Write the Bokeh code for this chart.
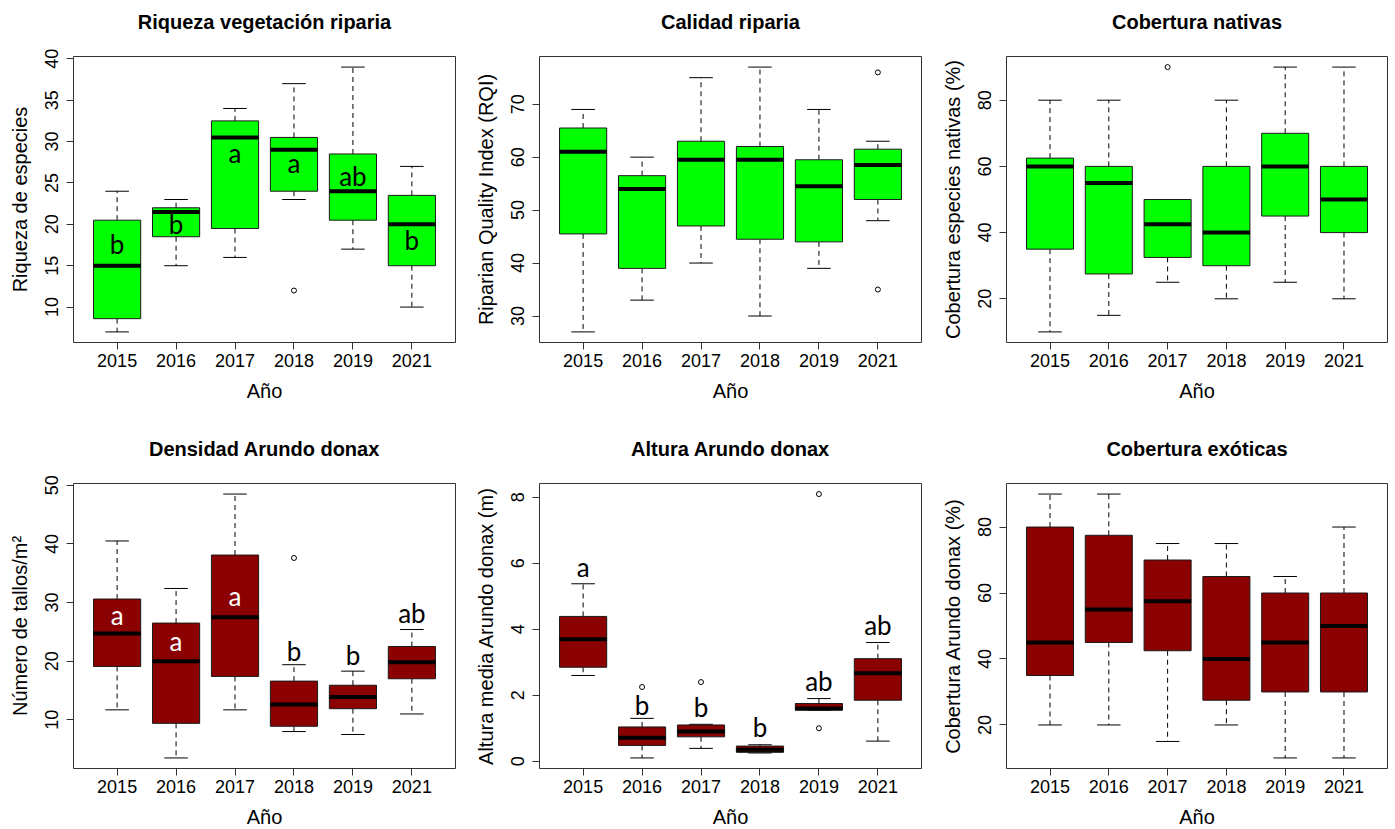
from bokeh.plotting import figure
from bokeh.layouts import row, column
from bokeh.models import FixedTicker, Range1d, ColumnDataSource, LinearAxis
from bokeh.core.properties import value
from bokeh.embed import file_html
from bokeh.resources import INLINE

years = ["2015", "2016", "2017", "2018", "2019", "2021"]

# Riqueza vegetación riparia
riq_low = [7, 15, 16, 23, 17, 10]
riq_q1 = [8.6, 18.5, 19.5, 24, 20.5, 15]
riq_med = [15, 21.5, 30.5, 29, 24, 20]
riq_q3 = [20.5, 22, 32.5, 30.5, 28.5, 23.5]
riq_high = [24, 23, 34, 37, 39, 27]
riq_out_year = ["2018"]
riq_out_val = [12]
riq_letters = ["b", "b", "a", "a", "ab", "b"]
riq_letter_y = [17.65, 20.0, 28.6, 27.4, 25.8, 18.1]

# Calidad riparia (RQI)
rqi_low = [27, 33, 40, 30, 39, 48]
rqi_q1 = [45.5, 39, 47, 44.5, 44, 52]
rqi_med = [61, 54, 59.5, 59.5, 54.5, 58.5]
rqi_q3 = [65.5, 56.5, 63, 62, 59.5, 61.5]
rqi_high = [69, 60, 75, 77, 69, 63]
rqi_out_year = ["2021", "2021"]
rqi_out_val = [76, 35]

# Cobertura nativas
nat_low = [10, 15, 25, 20, 25, 20]
nat_q1 = [35, 27.5, 32.5, 30, 45, 40]
nat_med = [60, 55, 42.5, 40, 60, 50]
nat_q3 = [62.5, 60, 50, 60, 70, 60]
nat_high = [80, 80, 50, 80, 90, 90]
nat_out_year = ["2017"]
nat_out_val = [90]

# Densidad Arundo donax
den_low = [11.7, 3.5, 11.7, 8.0, 7.5, 11.0]
den_q1 = [19.1, 9.4, 17.4, 8.9, 11.9, 17.0]
den_med = [24.7, 20.0, 27.5, 12.6, 13.9, 19.8]
den_q3 = [30.6, 26.5, 38.1, 16.6, 15.9, 22.5]
den_high = [40.5, 32.4, 48.5, 19.4, 18.3, 25.4]
den_out_year = ["2018"]
den_out_val = [37.6]
den_letters = ["a", "a", "a", "b", "b", "ab"]
den_letter_y = [27.95, 23.5, 31.2, 21.8, 21.0, 28.2]
den_letter_color = ["white", "white", "white", "black", "black", "black"]

# Altura Arundo donax
alt_low = [2.6, 0.1, 0.39, 0.25, 1.55, 0.61]
alt_q1 = [2.85, 0.48, 0.74, 0.27, 1.55, 1.85]
alt_med = [3.7, 0.71, 0.9, 0.35, 1.6, 2.67]
alt_q3 = [4.39, 1.04, 1.1, 0.46, 1.75, 3.11]
alt_high = [5.38, 1.3, 1.12, 0.5, 1.9, 3.6]
alt_out_year = ["2016", "2017", "2019", "2019"]
alt_out_val = [2.25, 2.4, 8.1, 1.0]
alt_letters = ["a", "b", "b", "b", "ab", "ab"]
alt_letter_y = [5.89, 1.69, 1.64, 1.04, 2.42, 4.13]

# Cobertura exóticas
exo_low = [20, 20, 15, 20, 10, 10]
exo_q1 = [35, 45, 42.5, 27.5, 30, 30]
exo_med = [45, 55, 57.5, 40, 45, 50]
exo_q3 = [80, 77.5, 70, 65, 60, 60]
exo_high = [90, 90, 75, 75, 65, 80]
exo_out_year = []
exo_out_val = []

GREEN = "#00FF00"
DARKRED = "#8B0000"
AXIS_FONT = "Liberation Sans"


def panel(title, ylabel, low, q1, med, q3, high, out_year, out_val, yticks,
          fill, top_border, bottom_border, left_border, right_border, frame_w,
          frame_h, letters=None, letter_y=None, letter_color=None):
    xs = list(range(1, len(years) + 1))
    pos = {y: i + 1 for i, y in enumerate(years)}

    # y range: data span padded by 4 % on each side
    data_vals = list(low) + list(high) + list(out_val)
    lo, hi = min(data_vals), max(data_vals)
    pad = (hi - lo) * 0.04
    p = figure(title=None, frame_width=frame_w, frame_height=frame_h,
               x_range=Range1d(0.26, 6.74), y_range=Range1d(lo - pad, hi + pad),
               min_border_left=left_border, min_border_right=right_border,
               min_border_top=top_border, min_border_bottom=bottom_border,
               toolbar_location=None, output_backend="svg",
               background_fill_color="white", border_fill_color="white")
    p.grid.visible = False
    p.outline_line_color = "#333333"
    p.outline_line_width = 1

    # bottom x axis
    xa = p.below[0]
    xa.ticker = FixedTicker(ticks=xs)
    xa.major_label_overrides = {i: y for i, y in zip(xs, years)}
    xa.bounds = (1, len(years))
    xa.axis_label = "Año"
    # left y axis
    ya = p.left[0]
    ya.ticker = FixedTicker(ticks=yticks)
    ya.bounds = (yticks[0], yticks[-1])
    ya.axis_label = ylabel
    ya.major_label_orientation = "vertical"
    for ax in (xa, ya):
        ax.axis_line_color = "#333333"
        ax.major_tick_line_color = "#333333"
        ax.major_tick_out = 7
        ax.major_tick_in = 0
        ax.minor_tick_line_color = None
        ax.major_label_text_font = AXIS_FONT
        ax.major_label_text_font_size = "18px"
        ax.major_label_text_color = "black"
        ax.axis_label_text_font = AXIS_FONT
        ax.axis_label_text_font_size = "20px"
        ax.axis_label_text_font_style = "normal"
        ax.axis_label_text_color = "black"
    xa.major_label_standoff = 4
    xa.axis_label_standoff = 10
    ya.major_label_standoff = 8
    ya.axis_label_standoff = 12

    # panel heading: a bare axis above the frame carrying only its label
    head = LinearAxis(ticker=FixedTicker(ticks=[]), axis_label=title,
                      axis_line_color=None, major_tick_line_color=None,
                      minor_tick_line_color=None,
                      major_tick_out=0, major_tick_in=0,
                      major_label_standoff=0,
                      major_label_text_font_size="0px",
                      axis_label_text_font=AXIS_FONT,
                      axis_label_text_font_size="20px",
                      axis_label_text_font_style="bold",
                      axis_label_text_color="black",
                      axis_label_standoff=24)
    p.add_layout(head, "above")

    src = ColumnDataSource(dict(
        x=xs, low=low, q1=q1, med=med, q3=q3, high=high,
        xl=[x - 0.4 for x in xs], xr=[x + 0.4 for x in xs],
        cl=[x - 0.2 for x in xs], cr=[x + 0.2 for x in xs]))

    # dashed whiskers
    p.segment(x0="x", y0="q3", x1="x", y1="high", source=src,
              line_color="black", line_width=1, line_dash="5 4")
    p.segment(x0="x", y0="q1", x1="x", y1="low", source=src,
              line_color="black", line_width=1, line_dash="5 4")
    # whisker caps
    p.segment(x0="cl", y0="high", x1="cr", y1="high", source=src,
              line_color="black", line_width=1)
    p.segment(x0="cl", y0="low", x1="cr", y1="low", source=src,
              line_color="black", line_width=1)
    # boxes
    p.vbar(x="x", top="q3", bottom="q1", width=0.8, source=src,
           fill_color=fill, line_color="#1a1a1a", line_width=1)
    # medians
    p.segment(x0="xl", y0="med", x1="xr", y1="med", source=src,
              line_color="black", line_width=4)
    # outliers
    if out_val:
        p.scatter(x=[pos[y] for y in out_year], y=out_val, marker="circle",
                  size=5, fill_color=None, line_color="black", line_width=1)
    # significance letters, centred on their y value
    if letters:
        cols = letter_color if letter_color else ["black"] * len(letters)
        p.text(x=xs, y=letter_y, text=letters, text_color=cols,
               text_font=value("Lato"), text_font_size="26px",
               text_align="center", text_baseline="middle")
    return p


FW, FH1, FH2 = 382, 286, 285
top_kw = dict(top_border=56, bottom_border=69, frame_h=FH1)
bot_kw = dict(top_border=72, bottom_border=61, frame_h=FH2)
c1 = dict(left_border=73, right_border=11, frame_w=FW)
c2 = dict(left_border=73, right_border=11, frame_w=FW)
c3 = dict(left_border=74, right_border=6, frame_w=381)

p1 = panel("Riqueza vegetación riparia", "Riqueza de especies",
           riq_low, riq_q1, riq_med, riq_q3, riq_high, riq_out_year, riq_out_val,
           [10, 15, 20, 25, 30, 35, 40], GREEN, letters=riq_letters,
           letter_y=riq_letter_y, **top_kw, **c1)
p2 = panel("Calidad riparia", "Riparian Quality Index (RQI)",
           rqi_low, rqi_q1, rqi_med, rqi_q3, rqi_high, rqi_out_year, rqi_out_val,
           [30, 40, 50, 60, 70], GREEN, **top_kw, **c2)
p3 = panel("Cobertura nativas", "Cobertura especies nativas (%)",
           nat_low, nat_q1, nat_med, nat_q3, nat_high, nat_out_year, nat_out_val,
           [20, 40, 60, 80], GREEN, **top_kw, **c3)
p4 = panel("Densidad Arundo donax", "Número de tallos/m²",
           den_low, den_q1, den_med, den_q3, den_high, den_out_year, den_out_val,
           [10, 20, 30, 40, 50], DARKRED, letters=den_letters,
           letter_y=den_letter_y, letter_color=den_letter_color, **bot_kw, **c1)
p5 = panel("Altura Arundo donax", "Altura media Arundo donax (m)",
           alt_low, alt_q1, alt_med, alt_q3, alt_high, alt_out_year, alt_out_val,
           [0, 2, 4, 6, 8], DARKRED, letters=alt_letters,
           letter_y=alt_letter_y, **bot_kw, **c2)
p6 = panel("Cobertura exóticas", "Cobertura Arundo donax (%)",
           exo_low, exo_q1, exo_med, exo_q3, exo_high, exo_out_year, exo_out_val,
           [20, 40, 60, 80], DARKRED, **bot_kw, **c3)

layout = column(row(p1, p2, p3, spacing=0), row(p4, p5, p6, spacing=0), spacing=0)

open("out.html", "w").write(file_html(layout, INLINE))
